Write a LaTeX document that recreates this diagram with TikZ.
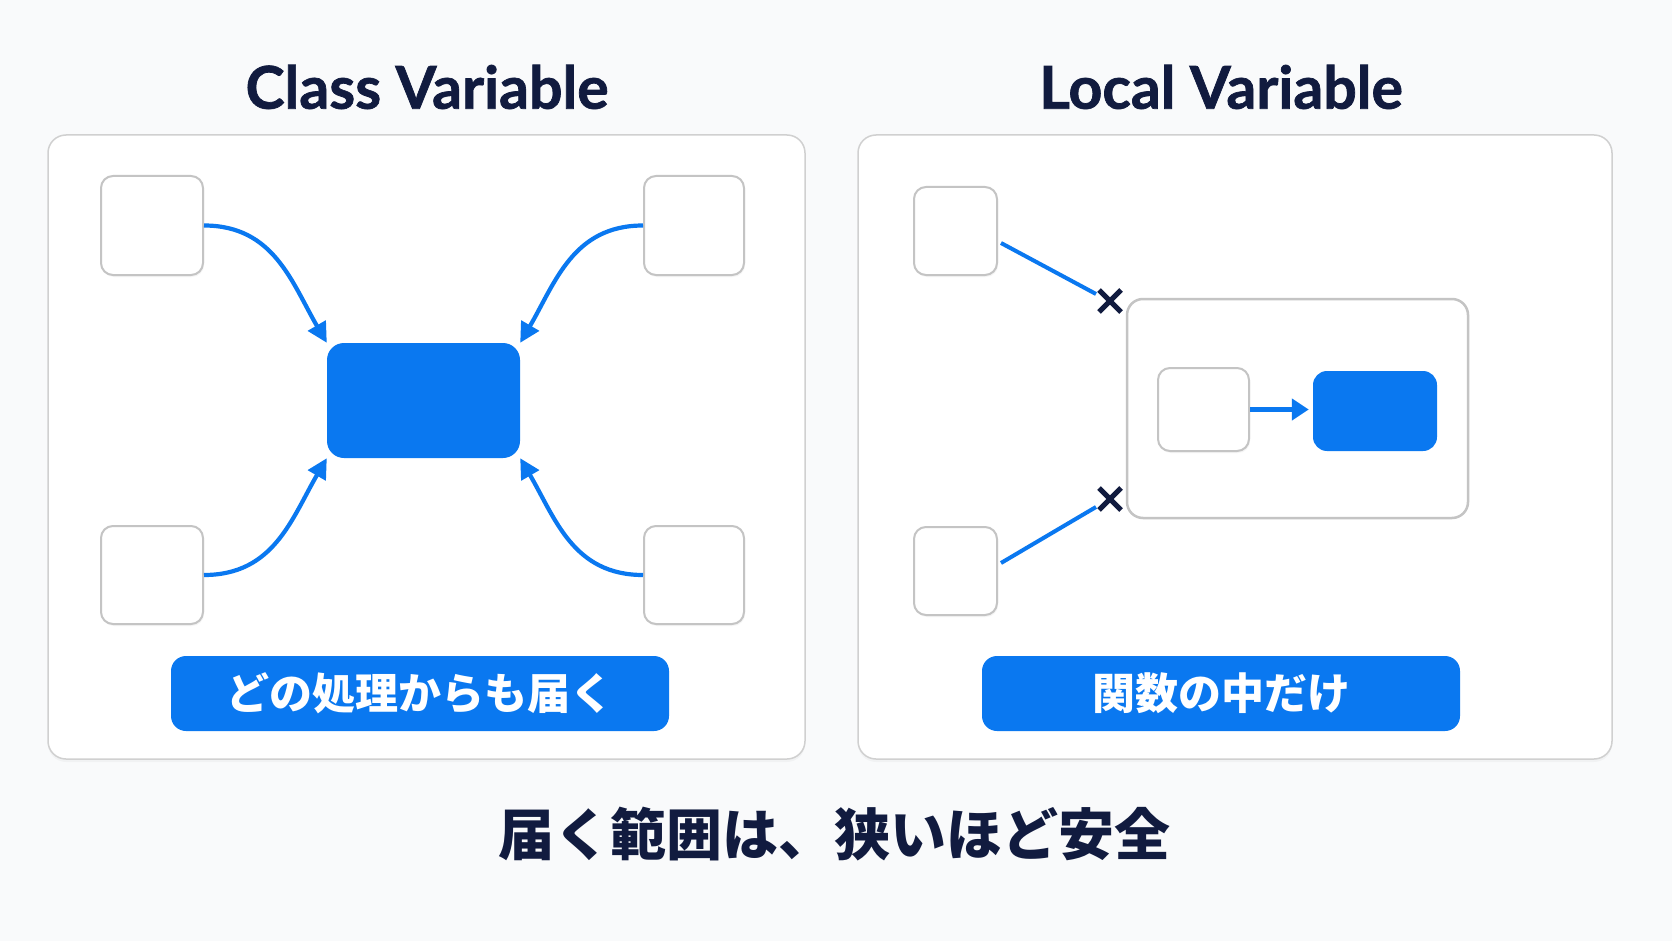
\documentclass[tikz,border=0pt]{standalone}
\usepackage{fontspec}
\setmainfont{Lato}
\newfontfamily\cjk{Noto Sans CJK JP}
\usetikzlibrary{arrows.meta,shadows,calc}
\definecolor{bg}{HTML}{F9FAFB}
\definecolor{navy}{HTML}{111B3F}
\definecolor{blu}{HTML}{0A78F0}
\definecolor{edge}{HTML}{C4C4C4}
\tikzset{
  panel/.style={draw=edge!80, line width=1.5pt, fill=white, rounded corners=18pt, inner sep=0pt,
    drop shadow={shadow xshift=0pt, shadow yshift=-3pt, opacity=0.06}},
  wbox/.style={draw=edge, line width=2pt, fill=white, rounded corners=12pt, inner sep=0pt,
    drop shadow={shadow xshift=1pt, shadow yshift=-2pt, opacity=0.08}},
  bbox/.style={fill=blu, rounded corners=17pt, inner sep=0pt},
  lab/.style={fill=blu, rounded corners=15pt, inner sep=0pt, minimum height=75pt, text=white,
    font=\cjk\bfseries\fontsize{43}{43}\selectfont},
  title/.style={text=navy, font=\fontsize{59}{59}\selectfont\bfseries\addfontfeature{FakeBold=1.2}},
  conn/.style={blu, line width=4.2pt, -{Triangle[length=20pt,width=20pt]}},
  plain/.style={blu, line width=4pt},
  xm/.style={navy, line width=5pt},
}
\begin{document}
\begin{tikzpicture}[x=1pt,y=-1pt]
\fill[bg] (0,0) rectangle (1672,941);
\useasboundingbox (0,0) rectangle (1672,941);

% titles
\node[title] (t1) at (427,87) {Class Variable};
\node[title] (t2) at (1221,87) {Local Variable};

% panels
\node[panel, minimum width=757pt, minimum height=624pt] (lp) at (426.5,447) {};
\node[panel, minimum width=754pt, minimum height=624pt] (rp) at (1235,447) {};

% left panel
\node[wbox, minimum width=102pt, minimum height=99pt] (tl) at (152,225.5) {};
\node[wbox, minimum width=100pt, minimum height=99pt] (tr) at (694,225.5) {};
\node[wbox, minimum width=102pt, minimum height=98pt] (bl) at (152,575) {};
\node[wbox, minimum width=100pt, minimum height=98pt] (br) at (694,575) {};
\node[bbox, minimum width=193pt, minimum height=115pt] (cb) at (423.5,400.5) {};

\draw[conn] (tl.east) .. controls +(70,0) and +(-35,-60) .. (cb.north west);
\draw[conn] (tr.west) .. controls +(-70,0) and +(35,-60) .. (cb.north east);
\draw[conn] (bl.east) .. controls +(70,0) and +(-35,60) .. (cb.south west);
\draw[conn] (br.west) .. controls +(-70,0) and +(35,60) .. (cb.south east);

\node[lab, minimum width=498pt] (l1) at (420,693.5) {どの処理からも届く};

% right panel
\node[wbox, minimum width=83pt, minimum height=88pt] (tb) at (955.5,231) {};
\node[wbox, minimum width=83pt, minimum height=88pt] (bb) at (955.5,571) {};
\node[draw=edge, line width=2.5pt, fill=white, rounded corners=16pt, inner sep=0pt,
  minimum width=341pt, minimum height=219pt] (fn) at (1297.5,408.5) {};
\node[wbox, minimum width=91pt, minimum height=83pt] (iw) at (1203.5,409.5) {};
\node[bbox, rounded corners=14pt, minimum width=124pt, minimum height=80pt] (ib) at (1375,411) {};
\draw[conn, shorten >=4pt, -{Triangle[length=17pt,width=21pt]}] (iw.east) -- (ib.west |- iw.east);

\coordinate (x1) at (1110,301);
\coordinate (x2) at (1110,499);
\draw[plain] ($(tb.east)+(3,12)$) -- ($(x1)+(-14,-7)$);
\draw[plain] ($(bb.east)+(3,-8)$) -- ($(x2)+(-14,8)$);
\draw[xm] ($(x1)+(-11,-11)$) -- ($(x1)+(11,11)$);
\draw[xm] ($(x1)+(-11,11)$) -- ($(x1)+(11,-11)$);
\draw[xm] ($(x2)+(-11,-11)$) -- ($(x2)+(11,11)$);
\draw[xm] ($(x2)+(-11,11)$) -- ($(x2)+(11,-11)$);

\node[lab, minimum width=478pt] (l2) at (1221,693.5) {関数の中だけ};

% bottom message
\node[text=navy, font=\cjk\bfseries\fontsize{56}{56}\selectfont] (msg) at (834,834) {届く範囲は、狭いほど安全};
\end{tikzpicture}
\end{document}
